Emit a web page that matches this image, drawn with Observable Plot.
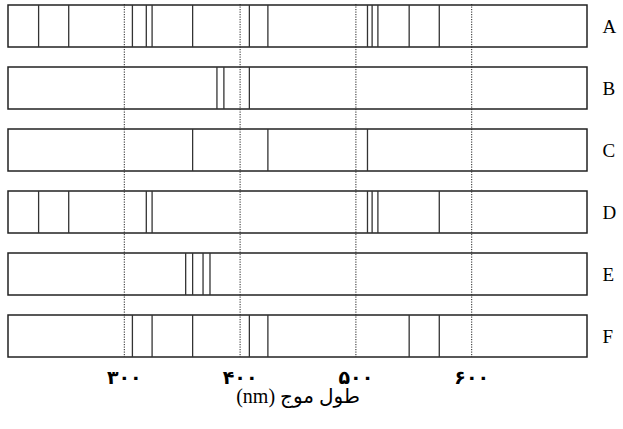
<!DOCTYPE html>
<html>
<head>
<meta charset="utf-8">
<script src="https://cdn.jsdelivr.net/npm/d3@7"></script>
<script src="https://cdn.jsdelivr.net/npm/@observablehq/plot@0.6"></script>
<style>
  body { margin: 0; background: #fff; }
</style>
</head>
<body>
<div id="chart"></div>
<script>
// Rows (spectra) and their line wavelengths (nm)
const rows = ["A", "B", "C", "D", "E", "F"];
const linesA = [226, 252, 307, 319, 324, 359, 408, 424, 510, 514, 519, 546, 572];
const linesB = [380, 386, 408];
const linesC = [359, 424, 510];
const linesD = [226, 252, 319, 324, 510, 514, 519, 572];
const linesE = [353, 359, 368, 374];
const linesF = [307, 324, 359, 408, 424, 546, 572];
const gridTicks = [300, 400, 500, 600];
const tickLabels = ["۳۰۰", "۴۰۰", "۵۰۰", "۶۰۰"];
const xDomain = [200, 700];
const axisLabel = "طول موج (nm)";

const lineSets = {A: linesA, B: linesB, C: linesC, D: linesD, E: linesE, F: linesF};
const lines = rows.flatMap(r => lineSets[r].map(nm => ({row: r, nm})));
const boxes = rows.map(r => ({row: r, x1: xDomain[0], x2: xDomain[1]}));

const chart = Plot.plot({
  width: 623,
  height: 429,
  marginTop: 4,
  marginBottom: 72,
  marginLeft: 8,
  marginRight: 36,
  style: {background: "#fff"},
  x: {domain: xDomain},
  y: {domain: rows, paddingInner: 0.3226, paddingOuter: 0},
  marks: [
    Plot.barX(boxes, {x1: "x1", x2: "x2", y: "row", fill: "#fff", stroke: "#222", strokeWidth: 1.5}),
    Plot.ruleX(gridTicks, {stroke: "#222", strokeWidth: 1, strokeDasharray: "1.2,1.3"}),
    Plot.tickX(lines, {x: "nm", y: "row", stroke: "#333", strokeWidth: 1.3}),
    Plot.axisX({
      ticks: gridTicks,
      tickFormat: d => tickLabels[gridTicks.indexOf(d)],
      tickSize: 0,
      tickPadding: 13,
      fontSize: 19,
      fontWeight: "bold",
      fontFamily: "DejaVu Sans",
      label: null
    }),
    Plot.axisY({
      anchor: "right",
      tickSize: 0,
      tickPadding: 15,
      fontSize: 19,
      fontFamily: "Liberation Serif",
      label: null
    }),
    Plot.text([axisLabel], {
      text: d => d,
      frameAnchor: "bottom",
      lineAnchor: "middle",
      dy: 39,
      fontSize: 20,
      fontFamily: "Liberation Serif, DejaVu Sans",
      fill: "#000"
    })
  ]
});

// Right-to-left paragraph direction for the Persian axis title; spacing for tick digits
d3.select(chart).selectAll("text").filter(function() { return this.textContent === axisLabel; })
  .attr("direction", "rtl").style("unicode-bidi", "embed");
d3.select(chart).selectAll("text").filter(function() { return tickLabels.includes(this.textContent); })
  .style("letter-spacing", "3px");

document.getElementById("chart").appendChild(chart);
</script>
</body>
</html>
